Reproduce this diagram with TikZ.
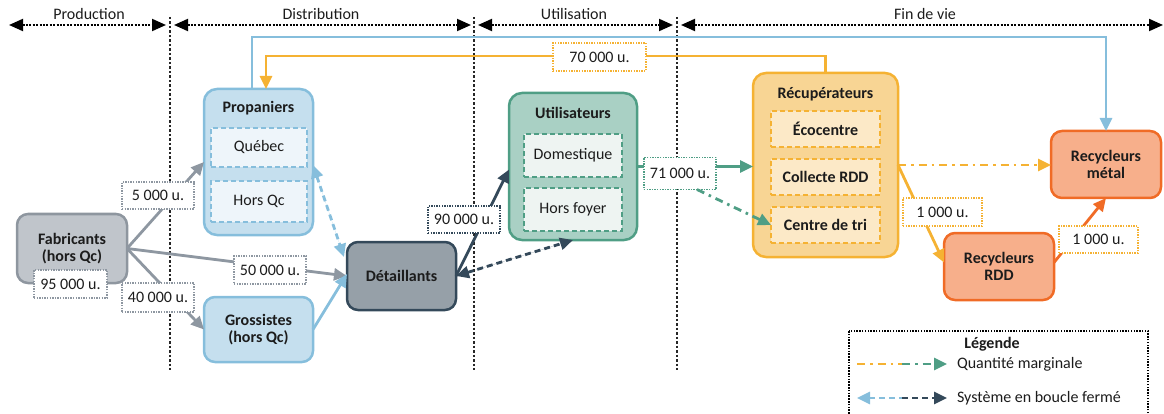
\documentclass[tikz,border=0pt]{standalone}
\usepackage{fontspec}
\setmainfont{Carlito}
\usetikzlibrary{arrows.meta,calc}
\definecolor{txt}{HTML}{1C1C1C}
\definecolor{grayline}{HTML}{8E97A1}
\definecolor{fabfill}{HTML}{C0C5CB}
\definecolor{fabbd}{HTML}{8E969F}
\definecolor{bluefill}{HTML}{C5DFEE}
\definecolor{bluebd}{HTML}{86BEDC}
\definecolor{blueinner}{HTML}{EEF5FA}
\definecolor{detfill}{HTML}{96A0A8}
\definecolor{dark}{HTML}{34495A}
\definecolor{utilfill}{HTML}{A9D0C4}
\definecolor{teal}{HTML}{4F9E85}
\definecolor{tealinner}{HTML}{EEF4F2}
\definecolor{recfill}{HTML}{F8D594}
\definecolor{orange}{HTML}{F5B233}
\definecolor{orinner}{HTML}{FCE9C7}
\definecolor{recyfill}{HTML}{F7AF8B}
\definecolor{recybd}{HTML}{F06B26}
\tikzset{
  base/.style={inner sep=0pt, outer sep=0pt, align=center, text=txt},
  container/.style={base, draw, rounded corners=13pt, line width=2.5pt},
  solo/.style={base, draw, rounded corners=11pt, line width=2.5pt, font=\fontsize{16}{17}\selectfont\bfseries},
  innerbox/.style={base, draw, dash pattern=on 5pt off 3pt, line width=2pt},
  titletext/.style={base, font=\fontsize{16}{17}\selectfont\bfseries},
  qty/.style={base, draw, fill=white, line width=1.5pt, dash pattern=on 1.4pt off 1.2pt, minimum width=72pt, minimum height=27pt},
  tip/.style={Triangle[length=13pt,width=12pt]},
  con/.style={line width=2.8pt, -{Triangle[length=13pt,width=12pt]}},
  bicon/.style={line width=2.8pt, {Triangle[length=13pt,width=12pt]}-{Triangle[length=13pt,width=12pt]}},
  dashdot/.style={dash pattern=on 8pt off 5pt on 2.5pt off 5pt},
  dashline/.style={dash pattern=on 6pt off 4pt},
  hdr/.style={line width=2pt, dash pattern=on 2pt off 1.4pt, black, {Triangle[length=14pt,width=12pt]}-{Triangle[length=14pt,width=12pt]}},
  sep/.style={line width=1.8pt, dash pattern=on 2.5pt off 2pt, black!85},
  hdrtext/.style={base, font=\fontsize{16}{17}\selectfont}
}
\begin{document}
\begin{tikzpicture}[x=1pt,y=-1pt, font=\fontsize{16}{17}\selectfont]
\useasboundingbox (0,0) rectangle (1164,414);
% separators
\coordinate (s1t) at (170,17); \coordinate (s1b) at (170,370);
\coordinate (s2t) at (474,17); \coordinate (s2b) at (474,370);
\coordinate (s3t) at (677,17); \coordinate (s3b) at (677,370);
\draw[sep] (s1t) -- (s1b);
\draw[sep] (s2t) -- (s2b);
\draw[sep] (s3t) -- (s3b);
% header
\coordinate (h0) at (9,25); \coordinate (h1) at (166,25);
\coordinate (h2) at (174,25); \coordinate (h3) at (471,25);
\coordinate (h4) at (478,25); \coordinate (h5) at (673,25);
\coordinate (h6) at (681,25); \coordinate (h7) at (1163,25);
\draw[hdr] (h0) -- (h1);
\draw[hdr] (h2) -- (h3);
\draw[hdr] (h4) -- (h5);
\draw[hdr] (h6) -- (h7);
\node[hdrtext] (tprod) at (89,14) {Production};
\node[hdrtext] (tdist) at (321,14) {Distribution};
\node[hdrtext] (tutil) at (574,14) {Utilisation};
\node[hdrtext] (tfin) at (925,14) {Fin de vie};

% nodes
\node[solo, fill=fabfill, draw=fabbd, minimum width=110pt, minimum height=69pt] (fab) at (72,248.5) {Fabricants\\(hors Qc)};
\node[container, fill=bluefill, draw=bluebd, minimum width=109pt, minimum height=146pt] (prop) at (258.5,162) {};
\node[titletext] (propT) at (258.5,108) {Propaniers};
\node[innerbox, fill=blueinner, draw=bluebd, minimum width=96pt, minimum height=39pt] (queb) at (259,147.5) {Québec};
\node[innerbox, fill=blueinner, draw=bluebd, minimum width=96pt, minimum height=41pt] (horsqc) at (259,201.5) {Hors Qc};
\node[solo, fill=bluefill, draw=bluebd, minimum width=109pt, minimum height=65pt] (gros) at (258.5,329.5) {Grossistes\\(hors Qc)};
\node[solo, fill=detfill, draw=dark, minimum width=109pt, minimum height=68pt] (det) at (401.5,276) {Détaillants};
\node[container, fill=utilfill, draw=teal, minimum width=128pt, minimum height=147pt] (util) at (573,166.5) {};
\node[titletext] (utilT) at (573,113) {Utilisateurs};
\node[innerbox, fill=tealinner, draw=teal, minimum width=98pt, minimum height=43pt] (dom) at (573,155.5) {Domestique};
\node[innerbox, fill=tealinner, draw=teal, minimum width=98pt, minimum height=43pt] (hf) at (573,209.5) {Hors foyer};
\node[container, fill=recfill, draw=orange, minimum width=145pt, minimum height=184pt] (recup) at (825.5,165) {};
\node[titletext] (recupT) at (825.5,94) {Récupérateurs};
\node[innerbox, fill=orinner, draw=orange, minimum width=109pt, minimum height=36pt, font=\fontsize{16}{17}\selectfont\bfseries] (eco) at (825.5,129) {Écocentre};
\node[innerbox, fill=orinner, draw=orange, minimum width=109pt, minimum height=36pt, font=\fontsize{16}{17}\selectfont\bfseries] (coll) at (825.5,177) {Collecte RDD};
\node[innerbox, fill=orinner, draw=orange, minimum width=109pt, minimum height=36pt, font=\fontsize{16}{17}\selectfont\bfseries] (ctri) at (825.5,225) {Centre de tri};
\node[solo, fill=recyfill, draw=recybd, minimum width=110pt, minimum height=67pt] (rmet) at (1106,164.5) {Recycleurs\\métal};
\node[solo, fill=recyfill, draw=recybd, minimum width=110pt, minimum height=67pt] (rrdd) at (999,266.5) {Recycleurs\\RDD};

% loops on top
\coordinate (bt) at (0,37);
\coordinate (ot) at (0,56);
\coordinate (pb) at ($(prop.north)+(-6.5,0)$);
\coordinate (po) at ($(prop.north)+(7.5,0)$);
\draw[con, draw=bluebd] (pb) |- (rmet.north |- bt) -- (rmet.north);
\draw[con, draw=orange] (recup.north) |- (po |- ot) -- (po);

% connectors
\draw[con, draw=grayline] (fab.east) -- (prop.west);
\draw[con, draw=grayline] (fab.east) -- (gros.west);
\draw[con, draw=grayline] (fab.east) -- (det.west);
\draw[con, draw=bluebd] (gros.east) -- ($(det.west)+(0,-2)$);
\draw[bicon, draw=bluebd, fill=bluebd, dashline] ($(prop.east)+(0,3)$) -- ($(det.north west)+(-3,15)$);
\draw[con, draw=dark] (det.east) -- ($(util.west)+(0,3)$);
\draw[bicon, draw=dark, fill=dark, dashline] (det.east) -- (util.south);
\draw[con, draw=teal] (util.east) -- (util.east -| recup.west);
\draw[con, draw=orange, dashdot] (recup.east) -- (recup.east -| rmet.west);
\draw[con, draw=orange] (recup.east) -- ($(rrdd.west)+(0,-4)$);
\draw[con, draw=recybd] ($(rrdd.east)+(0,-4)$) -- (rmet.south);

% quantity labels
\node[qty, draw=grayline] (l5) at (158,195.5) {5 000 u.};
\node[qty, draw=grayline, minimum height=29pt] (l40) at (158,297.5) {40 000 u.};
\node[qty, draw=grayline, minimum height=28pt] (l50) at (270,270) {50 000 u.};
\node[qty, draw=grayline, minimum width=73pt, minimum height=28pt] (l95) at (70.5,284) {95 000 u.};
\node[qty, draw=dark] (l90) at (464,219.5) {90 000 u.};
\node[qty, draw=teal, minimum height=32pt] (l71) at (680,173.5) {71 000 u.};
\node[qty, draw=orange, minimum width=93pt, minimum height=28pt] (l70) at (599.5,57) {70 000 u.};
\node[qty, draw=orange, minimum width=79pt, minimum height=28pt] (l1a) at (942.5,212) {1 000 u.};
\node[qty, draw=orange, minimum width=79pt] (l1b) at (1098.5,239.5) {1 000 u.};
\draw[con, draw=teal, dashdot] ($(l71.south)+(17,0)$) -- (ctri.west);

% legend
\coordinate (lg1) at (849,331); \coordinate (lg2) at (1148,420);
\draw[line width=1.8pt, dash pattern=on 1.5pt off 1.3pt, black] (lg1) rectangle (lg2);
\node[titletext] (lgT) at (992,344) {Légende};
\coordinate (a1) at (857,364); \coordinate (a1m) at (902,364); \coordinate (a1e) at (947,364);
\coordinate (a2) at (857,398); \coordinate (a2m) at (902,398); \coordinate (a2e) at (947,398);
\draw[line width=2.8pt, draw=orange, dashdot] (a1) -- (a1m);
\draw[con, draw=teal, dashdot] (a1m) -- (a1e);
\draw[line width=2.8pt, draw=bluebd, dashline, {Triangle[length=13pt,width=12pt]}-] (a2) -- (a2m);
\draw[con, draw=dark, dashline] (a2m) -- (a2e);
\node[base, anchor=west] (lq) at (957,364) {Quantité marginale};
\node[base, anchor=west] (ls) at (957,398) {Système en boucle fermé};
\end{tikzpicture}
\end{document}
